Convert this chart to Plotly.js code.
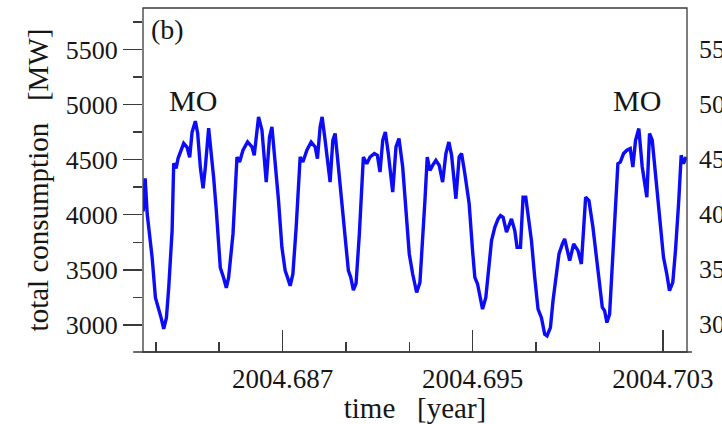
<!DOCTYPE html>
<html>
<head>
<meta charset="utf-8">
<script src="https://cdn.plot.ly/plotly-3.0.1.min.js"></script>
<style>
  html, body { margin: 0; padding: 0; background: #ffffff; }
  #chart { width: 722px; height: 424px; }
</style>
</head>
<body>
<div id="chart"></div>
<script>
// time in years
const timeYear = [
  2004.681137, 2004.681221, 2004.681305, 2004.681402, 2004.681515, 2004.681653, 2004.681792, 2004.681893,
  2004.682002, 2004.682115, 2004.682212, 2004.682355, 2004.682422, 2004.682523, 2004.682607, 2004.682733,
  2004.682842, 2004.682985, 2004.683094, 2004.683195, 2004.683333, 2004.683430, 2004.683543, 2004.683657,
  2004.683753, 2004.683892, 2004.683993, 2004.684102, 2004.684215, 2004.684312, 2004.684383, 2004.684522,
  2004.684635, 2004.684732, 2004.684833, 2004.684917, 2004.685085, 2004.685194, 2004.685337, 2004.685530,
  2004.685715, 2004.685811, 2004.685992, 2004.686135, 2004.686315, 2004.686454, 2004.686555, 2004.686693,
  2004.686832, 2004.686975, 2004.687113, 2004.687210, 2004.687323, 2004.687437, 2004.687575, 2004.687743,
  2004.687857, 2004.688025, 2004.688205, 2004.688373, 2004.688470, 2004.688583, 2004.688667, 2004.688793,
  2004.689003, 2004.689117, 2004.689213, 2004.689352, 2004.689495, 2004.689633, 2004.689772, 2004.689873,
  2004.689982, 2004.690095, 2004.690234, 2004.690402, 2004.690545, 2004.690683, 2004.690864, 2004.690990,
  2004.691103, 2004.691217, 2004.691326, 2004.691452, 2004.691637, 2004.691775, 2004.691901, 2004.692057,
  2004.692195, 2004.692334, 2004.692477, 2004.692645, 2004.692783, 2004.692897, 2004.692993, 2004.693090,
  2004.693203, 2004.693317, 2004.693455, 2004.693594, 2004.693737, 2004.693875, 2004.694001, 2004.694115,
  2004.694295, 2004.694434, 2004.694535, 2004.694673, 2004.694854, 2004.694997, 2004.695093, 2004.695207,
  2004.695303, 2004.695417, 2004.695555, 2004.695694, 2004.695795, 2004.695933, 2004.696072, 2004.696173,
  2004.696282, 2004.696425, 2004.696635, 2004.696773, 2004.696870, 2004.697013, 2004.697122, 2004.697235,
  2004.697374, 2004.697475, 2004.697613, 2004.697752, 2004.697895, 2004.698033, 2004.698130, 2004.698273,
  2004.698382, 2004.698525, 2004.698634, 2004.698777, 2004.698873, 2004.699083, 2004.699251, 2004.699432,
  2004.699575, 2004.699755, 2004.699894, 2004.700062, 2004.700205, 2004.700343, 2004.700457, 2004.700553,
  2004.700650, 2004.700763, 2004.700877, 2004.701015, 2004.701112, 2004.701213, 2004.701350, 2004.701490,
  2004.701632, 2004.701741, 2004.701855, 2004.701993, 2004.702136, 2004.702330, 2004.702443, 2004.702557,
  2004.702695, 2004.702863, 2004.703031, 2004.703170, 2004.703283, 2004.703422, 2004.703535, 2004.703674,
  2004.703775, 2004.703871, 2004.703984
];

// total consumption in MW
const consumptionMW = [
  4029, 4330, 4011, 3829, 3610, 3246, 3146, 3064,
  2964, 3064, 3337, 3856, 4466, 4421, 4512, 4585,
  4648, 4612, 4521, 4749, 4849, 4739, 4430, 4239,
  4430, 4785, 4585, 4339, 4038, 3765, 3519, 3428,
  3337, 3428, 3674, 3826, 4524, 4478, 4585, 4660,
  4615, 4539, 4888, 4767, 4296, 4706, 4797, 4494,
  4129, 3704, 3492, 3431, 3355, 3462, 3886, 4524,
  4478, 4585, 4660, 4615, 4509, 4797, 4888, 4676,
  4296, 4676, 4737, 4433, 4129, 3765, 3492, 3431,
  3316, 3376, 3826, 4524, 4463, 4524, 4555, 4539,
  4387, 4676, 4751, 4555, 4205, 4615, 4691, 4433,
  4038, 3644, 3462, 3294, 3385, 3735, 4129, 4524,
  4402, 4448, 4494, 4448, 4296, 4555, 4660, 4539,
  4145, 4524, 4555, 4372, 4099, 3674, 3431, 3371,
  3249, 3143, 3249, 3553, 3765, 3886, 3962, 3993,
  3977, 3841, 3962, 3856, 3704, 3704, 4159, 4159,
  3947, 3765, 3431, 3143, 3066, 2915, 2900, 2975,
  3219, 3462, 3644, 3735, 3780, 3583, 3735, 3674,
  3553, 4159, 4129, 3886, 3613, 3310, 3158, 3128,
  3021, 3097, 3522, 4068, 4463, 4478, 4555, 4585,
  4600, 4433, 4676, 4782, 4433, 4159, 4737, 4676,
  4372, 3977, 3613, 3462, 3310, 3385, 3674, 4129,
  4539, 4463, 4524
];

const xTickVals = [2004.687, 2004.695, 2004.703];
const xTickText = ["2004.687", "2004.695", "2004.703"];
const yTickVals = [3000, 3500, 4000, 4500, 5000, 5500];
const rightPanelLabels = ["5500", "5000", "4500", "4000", "3500", "3000"];
const moLabelTimes = [2004.683228, 2004.701897];

const serif = "Liberation Serif, Times New Roman, serif";
const axisColor = "#3a3a3a";
const textColor = "#161616";

const trace = {
  x: timeYear,
  y: consumptionMW,
  type: "scatter",
  mode: "lines",
  line: { color: "#0c0cf8", width: 3.4 },
  hoverinfo: "skip"
};

const annotations = [
  { text: "(b)", x: 0.011, y: 0.988, xref: "paper", yref: "paper", xanchor: "left", yanchor: "top",
    showarrow: false, font: { family: serif, size: 28, color: textColor } }
];
moLabelTimes.forEach(t => {
  annotations.push({ text: "MO", x: t, y: 5040, xref: "x", yref: "y", xanchor: "center", yanchor: "middle",
    showarrow: false, font: { family: serif, size: 30, color: textColor } });
});
rightPanelLabels.forEach((t, i) => {
  annotations.push({ text: t, x: 1.0175, y: yTickVals[yTickVals.length - 1 - i], xref: "paper", yref: "y",
    xanchor: "left", yanchor: "middle", showarrow: false,
    font: { family: serif, size: 26, color: textColor } });
});

const layout = {
  width: 722,
  height: 424,
  margin: { l: 143, r: 35, t: 8, b: 72, pad: 0 },
  paper_bgcolor: "#ffffff",
  plot_bgcolor: "#ffffff",
  showlegend: false,
  font: { family: serif, size: 26, color: textColor },
  xaxis: {
    range: [2004.68113, 2004.70402],
    tickmode: "array",
    tickvals: xTickVals,
    ticktext: xTickText,
    ticks: "inside",
    ticklen: 22,
    tickwidth: 1.5,
    tickcolor: axisColor,
    minor: { tickmode: "linear", tick0: 2004.687, dtick: 0.008 / 3, ticks: "inside", ticklen: 10, tickwidth: 1.5, tickcolor: axisColor, showgrid: false },
    showgrid: false,
    zeroline: false,
    showline: false,
    ticklabelstandoff: 8,
    tickfont: { family: serif, size: 27, color: textColor },
    title: { text: "time\u00a0\u00a0 [year]", font: { family: serif, size: 29, color: textColor }, standoff: 2 }
  },
  yaxis: {
    range: [2754, 5876],
    tickmode: "array",
    tickvals: yTickVals,
    ticks: "outside",
    ticklen: 19,
    tickwidth: 1.5,
    tickcolor: axisColor,
    minor: { tickmode: "linear", tick0: 2750, dtick: 250, ticks: "outside", ticklen: 9, tickwidth: 1.5, tickcolor: axisColor, showgrid: false },
    showgrid: false,
    zeroline: false,
    showline: false,
    ticklabelstandoff: 0,
    tickfont: { family: serif, size: 26, color: textColor },
    title: { text: "total consumption\u00a0\u00a0 [MW]", font: { family: serif, size: 29, color: textColor }, standoff: 8 }
  },
  shapes: [
    { type: "rect", xref: "paper", yref: "paper", x0: 0, x1: 1, y0: 0, y1: 1,
      line: { color: axisColor, width: 1.3 }, layer: "above" },
    { type: "line", xref: "paper", yref: "paper", x0: -0.018, x1: 1.009, y0: 0, y1: 0,
      line: { color: axisColor, width: 1.6 }, layer: "above" }
  ],
  annotations: annotations
};

Plotly.newPlot("chart", [trace], layout, { staticPlot: true, displayModeBar: false });
</script>
</body>
</html>
